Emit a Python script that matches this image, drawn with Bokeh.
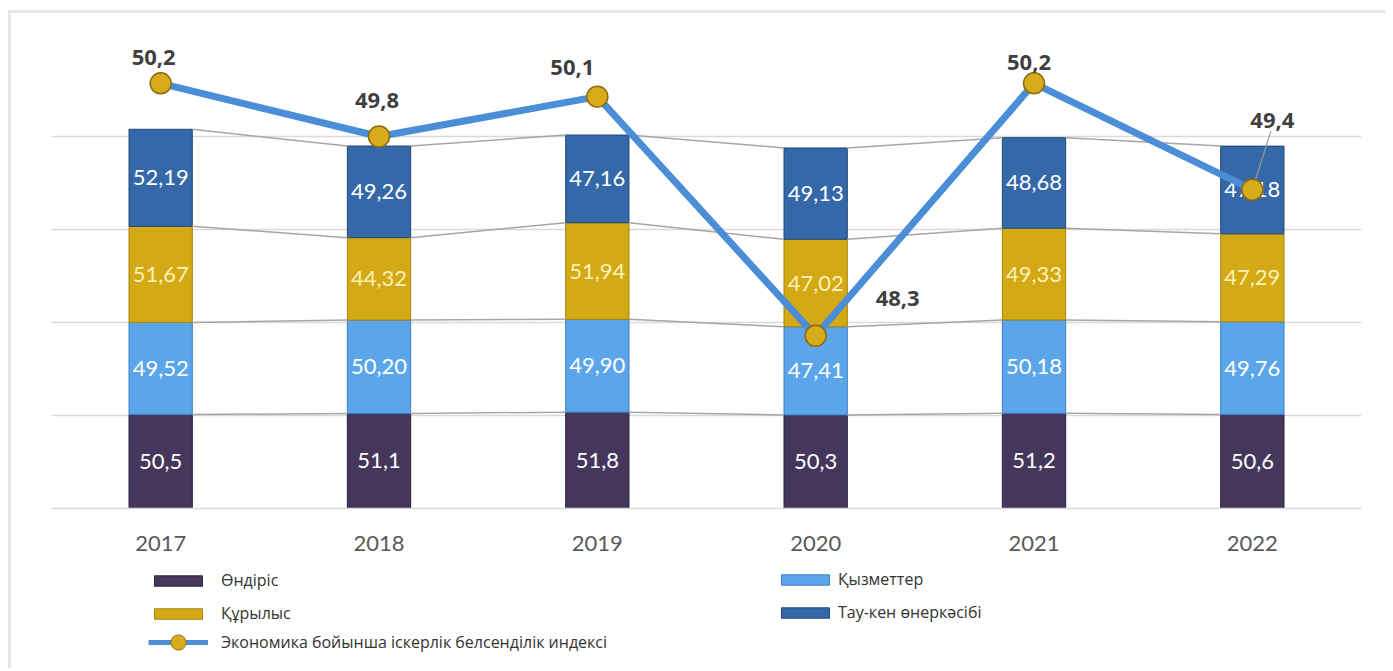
from bokeh.plotting import figure
from bokeh.layouts import column
from bokeh.models import Range1d, LinearAxis, FixedTicker, ColumnDataSource, Legend, LegendItem
from bokeh.embed import file_html
from bokeh.resources import INLINE
from bokeh.core.properties import value

years = ["2017", "2018", "2019", "2020", "2021", "2022"]
ondiris = [50.5, 51.1, 51.8, 50.3, 51.2, 50.6]          # Өндіріс
qyzmetter = [49.52, 50.20, 49.90, 47.41, 50.18, 49.76]  # Қызметтер
qurylys = [51.67, 44.32, 51.94, 47.02, 49.33, 47.29]    # Құрылыс
taukent = [52.19, 49.26, 47.16, 49.13, 48.68, 47.18]    # Тау-кен өнеркәсібі
index_vals = [50.2, 49.8, 50.1, 48.3, 50.2, 49.4]       # Экономика бойынша іскерлік белсенділік индексі

series_names = ["Өндіріс", "Қызметтер", "Құрылыс", "Тау-кен өнеркәсібі"]
line_name = "Экономика бойынша іскерлік белсенділік индексі"

colors = ["#45375c", "#5ba6ea", "#d3a916", "#3468a8"]
edge_colors = ["#2b2140", "#3b7fc4", "#a98508", "#23497a"]
label_colors = ["#ffffff", "#ffffff", "#fbf1b8", "#ffffff"]
decimals = [1, 2, 2, 2]
line_color = "#4c8dd8"
dot_fill, dot_edge = "#d6ac1c", "#8c6c08"

xs = list(range(len(years)))
bar_w = 0.29

series = [ondiris, qyzmetter, qurylys, taukent]
keys = ["s0", "s1", "s2", "s3"]
data = {"x": xs}
for k, s in zip(keys, series):
    data[k] = s
src = ColumnDataSource(data)

p = figure(frame_width=1310, frame_height=465,
           x_range=Range1d(-0.5, 5.5), y_range=Range1d(0, 250),
           output_backend="svg", toolbar_location=None,
           min_border_left=40, min_border_right=24, min_border_top=30, min_border_bottom=50)
p.extra_y_ranges = {"idx": Range1d(47, 50.5)}
p.add_layout(LinearAxis(y_range_name="idx", visible=False), "right")

p.outline_line_color = None
p.xgrid.visible = False
p.ygrid.ticker = FixedTicker(ticks=[50, 100, 150, 200, 250])
p.ygrid.grid_line_color = "#d9d9d9"
p.ygrid.grid_line_width = 1.5
p.yaxis[0].visible = False

xa = p.xaxis[0]
xa.ticker = FixedTicker(ticks=xs)
xa.major_label_overrides = {i: y for i, y in zip(xs, years)}
xa.major_tick_line_color = None
xa.minor_tick_line_color = None
xa.axis_line_color = "#d9d9d9"
xa.axis_line_width = 1.5
xa.major_label_text_font = "Lato"
xa.major_label_text_font_size = "22px"
xa.major_label_text_color = "#595959"
xa.major_label_standoff = 21

# stacked bars
bar_renderers = p.vbar_stack(keys, x="x", width=bar_w, source=src,
                             fill_color=colors, line_color=edge_colors, line_width=1)

# cumulative levels
cum = []
run = [0.0] * len(xs)
for s in series:
    bottoms = run[:]
    run = [a + b for a, b in zip(run, s)]
    cum.append((bottoms, run[:]))

# series connector lines
for bottoms, tops in cum:
    p.segment(x0=[i + bar_w / 2 for i in xs[:-1]], y0=tops[:-1],
              x1=[i + 1 - bar_w / 2 for i in xs[:-1]], y1=tops[1:],
              line_color="#a6a6a6", line_width=1.5)

# bar value labels
for (bottoms, tops), s, d, lc in zip(cum, series, decimals, label_colors):
    mids = [(b + t) / 2 for b, t in zip(bottoms, tops)]
    texts = [f"{v:.{d}f}".replace(".", ",") for v in s]
    p.text(x=xs, y=mids, text=texts, text_align="center", text_baseline="middle",
           text_font=value("Lato"), text_font_size="22px", text_color=lc)

# index line
line_r = p.line(xs, index_vals, y_range_name="idx", line_color=line_color, line_width=7,
                line_join="round")

# leader line for the last label
p.segment(x0=[xs[-1]], y0=[index_vals[-1]], x1=[xs[-1] + 0.085], y1=[index_vals[-1] + 0.44],
          y_range_name="idx", line_color="#9a9a9a", line_width=1.2)

dot_r = p.scatter(xs, index_vals, y_range_name="idx", size=21, fill_color=dot_fill,
                  line_color=dot_edge, line_width=1.5)

lbl_dx = [-7, -2, -25, 82, -5, 20]
lbl_dy = [-26, -36, -29, -37, -21, -69]
p.text(x=xs, y=index_vals, text=[f"{v:.1f}".replace(".", ",") for v in index_vals],
       y_range_name="idx", x_offset=lbl_dx, y_offset=lbl_dy,
       text_align="center", text_baseline="alphabetic",
       text_font=value("Open Sans"), text_font_style="bold", text_font_size="22px",
       text_color="#3f3f3f")

# legend panel (separate figure below the chart); its sample glyphs sit outside the visible range
lw = 40 + 1310 + 24
q = figure(frame_width=lw, frame_height=110, x_range=Range1d(0, 1), y_range=Range1d(0, 1),
           output_backend="svg", toolbar_location=None,
           min_border_left=0, min_border_right=0, min_border_top=0, min_border_bottom=0)
q.axis.visible = False
q.grid.visible = False
q.outline_line_color = None
hidden = [-10]
dummy_bars = [q.vbar(x=hidden, top=hidden, width=0.1, fill_color=c, line_color=ec, line_width=1)
              for c, ec in zip(colors, edge_colors)]
dummy_line = q.line(x=hidden, y=hidden, line_color=line_color, line_width=5)
dummy_dot = q.scatter(x=hidden, y=hidden, size=21, fill_color=dot_fill, line_color=dot_edge,
                      line_width=1)

leg1 = Legend(items=[LegendItem(label=series_names[0], renderers=[dummy_bars[0]]),
                     LegendItem(label=series_names[2], renderers=[dummy_bars[2]])],
              location=(137, 44), orientation="vertical")
leg2 = Legend(items=[LegendItem(label=series_names[1], renderers=[dummy_bars[1]]),
                     LegendItem(label=series_names[3], renderers=[dummy_bars[3]])],
              location=(764, 45), orientation="vertical")
leg3 = Legend(items=[LegendItem(label=line_name, renderers=[dummy_line, dummy_dot])],
              location=(137, 7), orientation="vertical")
for lg, so, gw, gh in ((leg1, 13, 60, 13), (leg2, 3, 60, 13), (leg3, 13, 60, 38)):
    lg.glyph_width = gw
    lg.glyph_height = gh
    lg.label_standoff = so
    lg.spacing = 11
    lg.padding = 0
    lg.margin = 0
    lg.border_line_color = None
    lg.background_fill_alpha = 0
    lg.label_text_font = "Open Sans"
    lg.label_text_font_size = "16px"
    lg.label_text_color = "#333333"
    lg.label_height = 20
    q.add_layout(lg, "center")

layout = column(p, q, styles={"border-top": "3px solid #e6e6e6", "border-left": "3px solid #e6e6e6",
                              "margin-left": "8px", "margin-top": "10px"})

open("out.html", "w").write(file_html(layout, INLINE))
